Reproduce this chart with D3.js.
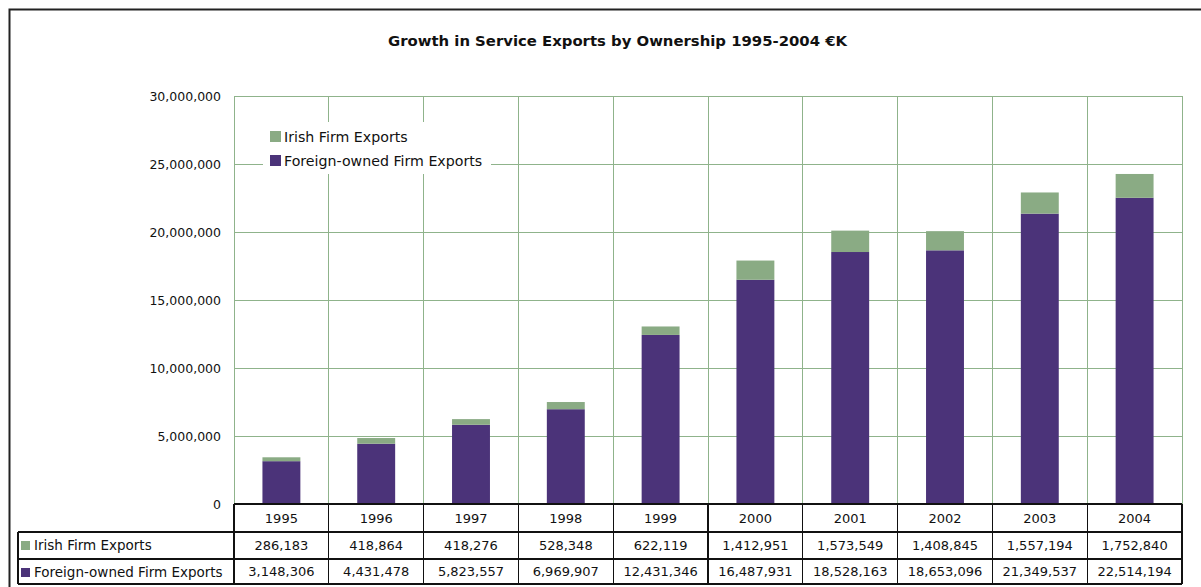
<!DOCTYPE html>
<html><head><meta charset="utf-8">
<script src="https://cdn.jsdelivr.net/npm/d3@7"></script>
<style>
body{margin:0;background:#fff;}
svg{display:block;font-family:"DejaVu Sans",sans-serif;}
</style></head>
<body><svg id="c" width="1201" height="587"></svg>
<script>
const years = ["1995","1996","1997","1998","1999","2000","2001","2002","2003","2004"];
const irish = [286183,418864,418276,528348,622119,1412951,1573549,1408845,1557194,1752840];
const foreign = [3148306,4431478,5823557,6969907,12431346,16487931,18528163,18653096,21349537,22514194];
const seriesNames = ["Irish Firm Exports","Foreign-owned Firm Exports"];
const seriesColors = ["#8aab84","#4b3379"];
const yTicks = [0,5000000,10000000,15000000,20000000,25000000,30000000];
const title = "Growth in Service Exports by Ownership 1995-2004 €K";

const svg = d3.select("#c");
const L = 234, R = 1182, T = 96, B = 504;
const grid = "#8fb38b";
const fmt = d3.format(",");

// outer frame
svg.append("path").attr("d","M9.5,600 V9.5 H1210").attr("fill","none").attr("stroke","#222").attr("stroke-width",2);

svg.append("text").attr("x",388).attr("y",46)
  .attr("font-weight","bold").attr("font-size",14).attr("fill","#111")
  .attr("textLength",459).attr("lengthAdjust","spacingAndGlyphs").text(title);

const x = d3.scaleBand().domain(years).range([L,R]).paddingInner(0).paddingOuter(0);
const y = d3.scaleLinear().domain([0,30000000]).range([B,T]);

// gridlines
svg.append("g").selectAll("line").data(yTicks).join("line")
  .attr("x1",L).attr("x2",R).attr("y1",d=>y(d)).attr("y2",d=>y(d))
  .attr("stroke",grid).attr("stroke-width",1).attr("shape-rendering","crispEdges");
svg.append("g").selectAll("line").data(years.concat(["end"])).join("line")
  .attr("x1",(d,i)=>L+i*x.bandwidth()).attr("x2",(d,i)=>L+i*x.bandwidth())
  .attr("y1",T).attr("y2",B).attr("stroke",grid).attr("stroke-width",1).attr("shape-rendering","crispEdges");

// y axis labels
const yAxis = d3.axisLeft(y).tickValues(yTicks).tickFormat(fmt).tickSize(0).tickPadding(13);
const ya = svg.append("g").attr("transform",`translate(${L},0)`).call(yAxis);
ya.select(".domain").remove();
ya.selectAll("text").attr("font-size",12.5).attr("fill","#111").attr("font-family","DejaVu Sans");

// bars
const bw = x.bandwidth()*0.4;
const gb = svg.append("g");
years.forEach((yr,i)=>{
  const cx = x(yr)+x.bandwidth()/2;
  gb.append("rect").attr("x",cx-bw/2).attr("width",bw).attr("y",y(foreign[i])).attr("height",y(0)-y(foreign[i])).attr("fill",seriesColors[1]);
  gb.append("rect").attr("x",cx-bw/2).attr("width",bw).attr("y",y(foreign[i]+irish[i])).attr("height",y(0)-y(irish[i])).attr("fill",seriesColors[0]);
});

// legend
const lg = svg.append("g");
lg.append("rect").attr("x",263).attr("y",122).attr("width",228).attr("height",52).attr("fill","#fff");
seriesNames.forEach((n,i)=>{
  lg.append("rect").attr("x",270).attr("y",131+i*24).attr("width",11).attr("height",11).attr("fill",seriesColors[i]);
  lg.append("text").attr("x",284).attr("y",142+i*24).attr("font-size",14.2).attr("fill","#111").text(n);
});

// data table
const tb = svg.append("g");
const rowY = [504,532,559,584];
const tl = 18;
const line = (x1,y1,x2,y2)=>tb.append("line").attr("x1",x1).attr("y1",y1).attr("x2",x2).attr("y2",y2)
  .attr("stroke","#111").attr("stroke-width",1.2).attr("shape-rendering","crispEdges");
line(L,rowY[0],R,rowY[0]);
line(tl,rowY[1],R,rowY[1]);
line(tl,rowY[2],R,rowY[2]);
line(tl,rowY[3],R,rowY[3]);
line(tl,rowY[1],tl,rowY[3]);
years.concat(["end"]).forEach((d,i)=>{ const xx=L+i*x.bandwidth(); line(xx,rowY[0],xx,rowY[3]); });

years.forEach((yr,i)=>{
  const cx = x(yr)+x.bandwidth()/2;
  tb.append("text").attr("x",cx).attr("y",523).attr("text-anchor","middle").attr("font-size",13).attr("fill","#111").text(yr);
  tb.append("text").attr("x",cx).attr("y",550).attr("text-anchor","middle").attr("font-size",13).attr("fill","#111").text(fmt(irish[i]));
  tb.append("text").attr("x",cx).attr("y",576).attr("text-anchor","middle").attr("font-size",13).attr("fill","#111").text(fmt(foreign[i]));
});
seriesNames.forEach((n,i)=>{
  const yy = i===0?rowY[1]:rowY[2];
  tb.append("rect").attr("x",21).attr("y",yy+9).attr("width",9).attr("height",9).attr("fill",seriesColors[i]);
  tb.append("text").attr("x",34).attr("y",yy+18).attr("font-size",13.5).attr("fill","#111").text(n);
});
</script></body></html>
